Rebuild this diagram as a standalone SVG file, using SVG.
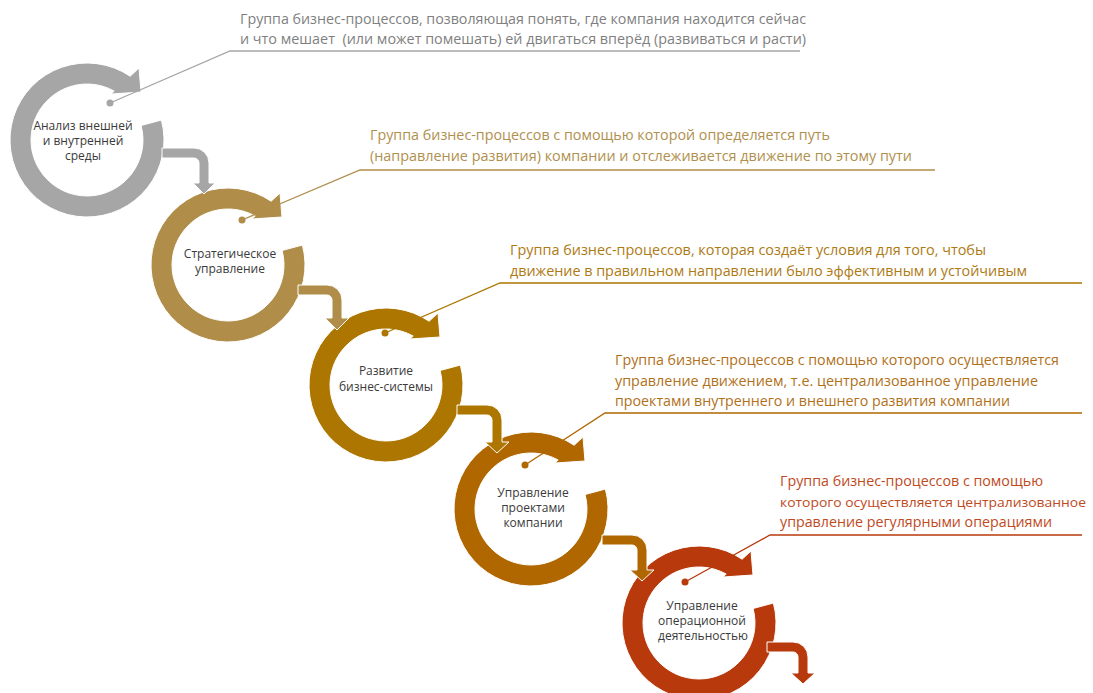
<svg xmlns="http://www.w3.org/2000/svg" xmlns:xlink="http://www.w3.org/1999/xlink" width="1093" height="693" viewBox="0 0 1093 693">
<style>
.ring{stroke:#fff;stroke-width:1;stroke-linejoin:miter}
.lbl{font-family:"Open Sans","Liberation Sans",sans-serif;font-size:12px;fill:#3a3a3a;text-anchor:middle}
.desc{font-family:"Open Sans","Liberation Sans",sans-serif;font-size:14.5px;white-space:pre}
.conn{stroke:#fff;stroke-width:1}
.lead{fill:none;stroke-width:1.3}
</style>
<defs>
<path id="ring" d="M74.38,-19.93 A77,77 0 1 1 43.14,-63.78 L52,-72 L54,-48 L24,-46 L27.19,-48.96 A56,56 0 1 0 54.09,-14.49 Z"/>
</defs>
<rect width="1093" height="693" fill="#fff"/>

<g id="node-analysis">
<use href="#ring" class="ring" transform="translate(87,140)" fill="#A6A6A6"/>
<text class="lbl" x="83" y="130">Анализ внешней</text>
<text class="lbl" x="83" y="145">и внутренней</text>
<text class="lbl" x="83" y="160">среды</text>
</g>
<g id="node-strategy">
<use href="#ring" class="ring" transform="translate(228,265)" fill="#B08E4A"/>
<text class="lbl" x="230" y="258">Стратегическое</text>
<text class="lbl" x="230" y="273">управление</text>
</g>
<g id="node-development">
<use href="#ring" class="ring" transform="translate(386,385)" fill="#AC7600"/>
<text class="lbl" x="386" y="375">Развитие</text>
<text class="lbl" x="386" y="391">бизнес-системы</text>
</g>
<g id="node-projects">
<use href="#ring" class="ring" transform="translate(531,509)" fill="#B06700"/>
<text class="lbl" x="533" y="497">Управление</text>
<text class="lbl" x="533" y="512">проектами</text>
<text class="lbl" x="533" y="527">компании</text>
</g>
<g id="node-operations">
<use href="#ring" class="ring" transform="translate(699,623)" fill="#B83A0C"/>
<text class="lbl" x="702" y="610">Управление</text>
<text class="lbl" x="702" y="625">операционной</text>
<text class="lbl" x="703" y="640">деятельностью</text>
</g>

<g id="connectors">
<path class="conn" fill="#A6A6A6" d="M162,148 H194 A15,15 0 0 1 209,163 V183 H215 L204,194 L193,183 H199 V163 A5,5 0 0 0 194,158 H162 Z"/>
<path class="conn" fill="#B08E4A" d="M298,285 H327 A15,15 0 0 1 342,300 V318 H349 L337,330 L325,318 H332 V300 A5,5 0 0 0 327,295 H298 Z"/>
<path class="conn" fill="#AC7600" d="M457,405 H487 A15,15 0 0 1 502,420 V442 H509 L497,453 L485,442 H492 V420 A5,5 0 0 0 487,415 H457 Z"/>
<path class="conn" fill="#B06700" d="M602,535 H632 A15,15 0 0 1 647,550 V570 H654 L642,581 L630,570 H637 V550 A5,5 0 0 0 632,545 H602 Z"/>
<path class="conn" fill="#B83A0C" d="M767,642 H793 A15,15 0 0 1 808,657 V673 H815 L803,684 L791,673 H798 V657 A5,5 0 0 0 793,652 H767 Z"/>
</g>

<g id="note-analysis">
<polyline class="lead" stroke="#A6A6A6" points="110,103 230,51 800,51"/>
<circle cx="110" cy="103" r="3.5" fill="#A6A6A6"/>
<text class="desc" fill="#7F7F7F" x="240" y="24" textLength="566" lengthAdjust="spacingAndGlyphs">Группа бизнес-процессов, позволяющая понять, где компания находится сейчас</text>
<text class="desc" fill="#7F7F7F" x="240" y="44" textLength="566" lengthAdjust="spacingAndGlyphs">и что мешает  (или может помешать) ей двигаться вперёд (развиваться и расти)</text>
</g>
<g id="note-strategy">
<polyline class="lead" stroke="#B08E4A" points="242,220 360,170 935,170"/>
<circle cx="242" cy="220" r="3.5" fill="#B08E4A"/>
<text class="desc" fill="#B0904E" x="370" y="140" textLength="460" lengthAdjust="spacingAndGlyphs">Группа бизнес-процессов с помощью которой определяется путь</text>
<text class="desc" fill="#B0904E" x="370" y="161" textLength="542" lengthAdjust="spacingAndGlyphs">(направление развития) компании и отслеживается движение по этому пути</text>
</g>
<g id="note-development">
<polyline class="lead" stroke="#AC7600" points="385,333 500,283 1082,283"/>
<circle cx="385" cy="333" r="3.5" fill="#AC7600"/>
<text class="desc" fill="#AE7A14" x="510" y="255" textLength="476" lengthAdjust="spacingAndGlyphs">Группа бизнес-процессов, которая создаёт условия для того, чтобы</text>
<text class="desc" fill="#AE7A14" x="510" y="276" textLength="517" lengthAdjust="spacingAndGlyphs">движение в правильном направлении было эффективным и устойчивым</text>
</g>
<g id="note-projects">
<polyline class="lead" stroke="#B06700" points="525,465 605,413 1082,413"/>
<circle cx="525" cy="465" r="3.5" fill="#B06700"/>
<text class="desc" fill="#B1701A" x="615" y="365" textLength="444" lengthAdjust="spacingAndGlyphs">Группа бизнес-процессов с помощью которого осуществляется</text>
<text class="desc" fill="#B1701A" x="615" y="386" textLength="423" lengthAdjust="spacingAndGlyphs">управление движением, т.е. централизованное управление</text>
<text class="desc" fill="#B1701A" x="615" y="406" textLength="395" lengthAdjust="spacingAndGlyphs">проектами внутреннего и внешнего развития компании</text>
</g>
<g id="note-operations">
<polyline class="lead" stroke="#B83A0C" points="685,582 770,535 1082,535"/>
<circle cx="685" cy="582" r="3.5" fill="#B83A0C"/>
<text class="desc" fill="#C04A1E" x="780" y="486" textLength="263" lengthAdjust="spacingAndGlyphs">Группа бизнес-процессов с помощью</text>
<text class="desc" fill="#C04A1E" x="780" y="507" font-size="13.5" style="font-size:13.5px" textLength="306" lengthAdjust="spacingAndGlyphs">которого осуществляется централизованное</text>
<text class="desc" fill="#C04A1E" x="780" y="527" textLength="272" lengthAdjust="spacingAndGlyphs">управление регулярными операциями</text>
</g>
</svg>
